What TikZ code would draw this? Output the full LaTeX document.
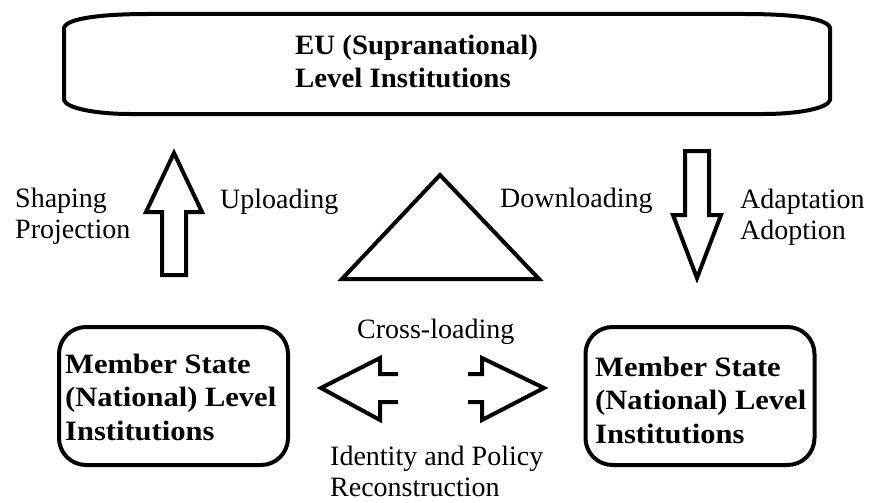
\documentclass[tikz,border=0pt]{standalone}
\usepackage{fontspec}
\setmainfont{Liberation Serif}
\newfontfamily\euboldfont{Liberation Serif Bold}[FakeStretch=1.03]
\newfontfamily\msboldfont{Liberation Serif Bold}[FakeStretch=1.09]
\begin{document}
\begin{tikzpicture}[x=1pt,y=-1pt,
  ink/.style={draw=black,line width=4pt,line join=miter},
  lbl/.style={anchor=base west,inner sep=0pt,align=left,font=\fontsize{28pt}{31pt}\selectfont},
  eulbl/.style={anchor=base west,inner sep=0pt,align=left,font=\euboldfont\fontsize{28pt}{33pt}\selectfont},
  mslbl/.style={anchor=base west,inner sep=0pt,align=left,font=\msboldfont\fontsize{28pt}{33.5pt}\selectfont},
  msbox/.style={draw=black,line width=4pt,rounded corners=27pt,minimum width=229pt,minimum height=138pt,inner sep=0pt}]
\useasboundingbox (0,0) rectangle (870,503);
% top box
\draw[ink,line join=round] (148,14) -- (745,14) .. controls (790,14) and (828,18) .. (830,28) -- (830,100)
  .. controls (828,108) and (800,114) .. (763,114) -- (130,114)
  .. controls (95,114) and (66,108) .. (64,100) -- (64,28)
  .. controls (66,18) and (104,14) .. (148,14) -- cycle;
\node[eulbl] (eu) at (295,88) {EU (Supranational)\\Level Institutions};
% member state boxes
\node[msbox] (msl) at (173.5,396) {};
\node[msbox] (msr) at (700,396) {};
\node[mslbl] (msltext) at (65,440) {Member State\\(National) Level\\Institutions};
\node[mslbl] (msrtext) at (595,443) {Member State\\(National) Level\\Institutions};
% up arrow
\draw[ink] (174,153) -- (202,212) -- (186,212) -- (186,275) -- (162,275) -- (162,212) -- (146,212) -- cycle;
% down arrow
\draw[ink] (685,151) -- (709,151) -- (709,215) -- (721,215) -- (697,278) -- (673,215) -- (685,215) -- cycle;
% triangle
\draw[ink] (440,175) -- (539,279) -- (342,279) -- cycle;
% cross-loading arrows
\draw[ink] (398,374) -- (380,374) -- (380,358) -- (321,388) -- (380,420) -- (380,402) -- (398,402);
\draw[ink] (468,374) -- (482,374) -- (482,358) -- (544,388) -- (482,420) -- (482,402) -- (468,402);
% labels
\node[lbl] (shaping) at (15,238) {Shaping\\Projection};
\node[lbl] (uploading) at (220,208) {Uploading};
\node[lbl] (downloading) at (500,207) {Downloading};
\node[lbl] (adaptation) at (740,239) {Adaptation\\Adoption};
\node[lbl] (cross) at (357,338) {Cross-loading};
\node[lbl] (identity) at (330,496) {Identity and Policy\\Reconstruction};
\end{tikzpicture}
\end{document}
